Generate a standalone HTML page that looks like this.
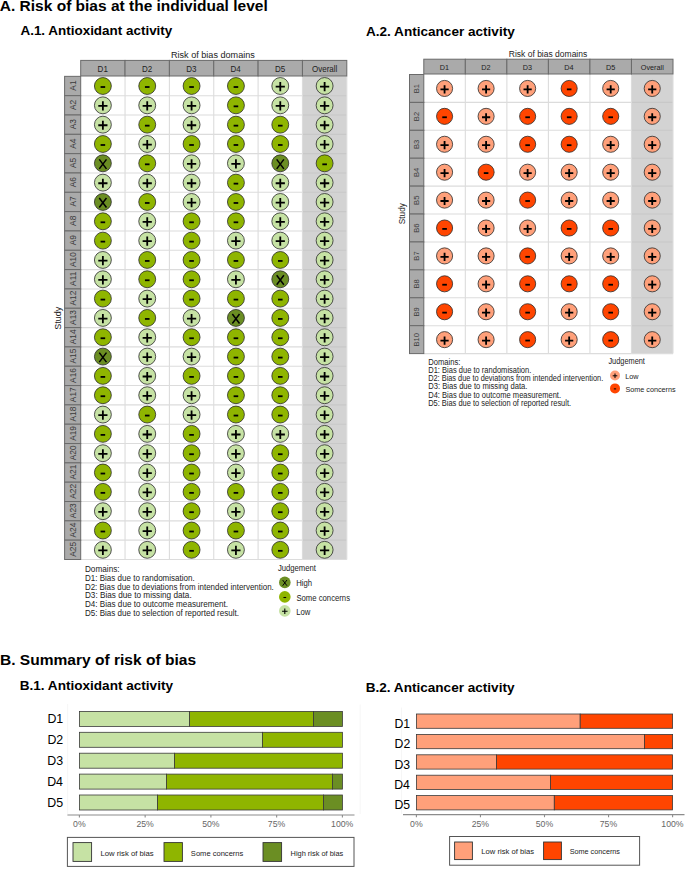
<!DOCTYPE html>
<html><head><meta charset="utf-8"><title>Risk of bias</title><style>
html,body{margin:0;padding:0;background:#fff;}
body{width:685px;height:872px;overflow:hidden;}
svg{display:block;font-family:"Liberation Sans", sans-serif;}
</style></head><body>
<svg width="685" height="872" viewBox="0 0 685 872">
<rect width="685" height="872" fill="#fff"/>
<text transform="translate(-0.19,11.4)" font-size="15.5" font-weight="bold" fill="#000">A. Risk of bias at the individual level</text>
<text transform="translate(20.46,34.5) scale(1,1)" font-size="13.45" font-weight="bold" fill="#000">A.1. Antioxidant activity</text>
<text transform="translate(365.96,35.9) scale(1.01,1)" font-size="13.45" font-weight="bold" fill="#000">A.2. Anticancer activity</text>
<text transform="translate(-0.05,665.4) scale(1.01,1)" font-size="15.4" font-weight="bold" fill="#000">B. Summary of risk of bias</text>
<text transform="translate(19.69,690) scale(1.01,1)" font-size="13.45" font-weight="bold" fill="#000">B.1. Antioxidant activity</text>
<text transform="translate(365.69,691.6) scale(1.01,1)" font-size="13.45" font-weight="bold" fill="#000">B.2. Anticancer activity</text>
<text transform="translate(170.95,57.8) scale(0.99,1)" font-size="9.2" fill="#222222">Risk of bias domains</text>
<rect x="302.45" y="76.35" width="44.35" height="483.15" fill="#d3d3d3"/>
<line x1="80.7" y1="95.68" x2="302.45" y2="95.68" stroke="#dcdcdc" stroke-width="1.1"/>
<line x1="302.45" y1="95.68" x2="346.8" y2="95.68" stroke="#c8c8c8" stroke-width="1.1"/>
<line x1="80.7" y1="115" x2="302.45" y2="115" stroke="#dcdcdc" stroke-width="1.1"/>
<line x1="302.45" y1="115" x2="346.8" y2="115" stroke="#c8c8c8" stroke-width="1.1"/>
<line x1="80.7" y1="134.33" x2="302.45" y2="134.33" stroke="#dcdcdc" stroke-width="1.1"/>
<line x1="302.45" y1="134.33" x2="346.8" y2="134.33" stroke="#c8c8c8" stroke-width="1.1"/>
<line x1="80.7" y1="153.65" x2="302.45" y2="153.65" stroke="#dcdcdc" stroke-width="1.1"/>
<line x1="302.45" y1="153.65" x2="346.8" y2="153.65" stroke="#c8c8c8" stroke-width="1.1"/>
<line x1="80.7" y1="172.98" x2="302.45" y2="172.98" stroke="#dcdcdc" stroke-width="1.1"/>
<line x1="302.45" y1="172.98" x2="346.8" y2="172.98" stroke="#c8c8c8" stroke-width="1.1"/>
<line x1="80.7" y1="192.31" x2="302.45" y2="192.31" stroke="#dcdcdc" stroke-width="1.1"/>
<line x1="302.45" y1="192.31" x2="346.8" y2="192.31" stroke="#c8c8c8" stroke-width="1.1"/>
<line x1="80.7" y1="211.63" x2="302.45" y2="211.63" stroke="#dcdcdc" stroke-width="1.1"/>
<line x1="302.45" y1="211.63" x2="346.8" y2="211.63" stroke="#c8c8c8" stroke-width="1.1"/>
<line x1="80.7" y1="230.96" x2="302.45" y2="230.96" stroke="#dcdcdc" stroke-width="1.1"/>
<line x1="302.45" y1="230.96" x2="346.8" y2="230.96" stroke="#c8c8c8" stroke-width="1.1"/>
<line x1="80.7" y1="250.28" x2="302.45" y2="250.28" stroke="#dcdcdc" stroke-width="1.1"/>
<line x1="302.45" y1="250.28" x2="346.8" y2="250.28" stroke="#c8c8c8" stroke-width="1.1"/>
<line x1="80.7" y1="269.61" x2="302.45" y2="269.61" stroke="#dcdcdc" stroke-width="1.1"/>
<line x1="302.45" y1="269.61" x2="346.8" y2="269.61" stroke="#c8c8c8" stroke-width="1.1"/>
<line x1="80.7" y1="288.94" x2="302.45" y2="288.94" stroke="#dcdcdc" stroke-width="1.1"/>
<line x1="302.45" y1="288.94" x2="346.8" y2="288.94" stroke="#c8c8c8" stroke-width="1.1"/>
<line x1="80.7" y1="308.26" x2="302.45" y2="308.26" stroke="#dcdcdc" stroke-width="1.1"/>
<line x1="302.45" y1="308.26" x2="346.8" y2="308.26" stroke="#c8c8c8" stroke-width="1.1"/>
<line x1="80.7" y1="327.59" x2="302.45" y2="327.59" stroke="#dcdcdc" stroke-width="1.1"/>
<line x1="302.45" y1="327.59" x2="346.8" y2="327.59" stroke="#c8c8c8" stroke-width="1.1"/>
<line x1="80.7" y1="346.91" x2="302.45" y2="346.91" stroke="#dcdcdc" stroke-width="1.1"/>
<line x1="302.45" y1="346.91" x2="346.8" y2="346.91" stroke="#c8c8c8" stroke-width="1.1"/>
<line x1="80.7" y1="366.24" x2="302.45" y2="366.24" stroke="#dcdcdc" stroke-width="1.1"/>
<line x1="302.45" y1="366.24" x2="346.8" y2="366.24" stroke="#c8c8c8" stroke-width="1.1"/>
<line x1="80.7" y1="385.57" x2="302.45" y2="385.57" stroke="#dcdcdc" stroke-width="1.1"/>
<line x1="302.45" y1="385.57" x2="346.8" y2="385.57" stroke="#c8c8c8" stroke-width="1.1"/>
<line x1="80.7" y1="404.89" x2="302.45" y2="404.89" stroke="#dcdcdc" stroke-width="1.1"/>
<line x1="302.45" y1="404.89" x2="346.8" y2="404.89" stroke="#c8c8c8" stroke-width="1.1"/>
<line x1="80.7" y1="424.22" x2="302.45" y2="424.22" stroke="#dcdcdc" stroke-width="1.1"/>
<line x1="302.45" y1="424.22" x2="346.8" y2="424.22" stroke="#c8c8c8" stroke-width="1.1"/>
<line x1="80.7" y1="443.54" x2="302.45" y2="443.54" stroke="#dcdcdc" stroke-width="1.1"/>
<line x1="302.45" y1="443.54" x2="346.8" y2="443.54" stroke="#c8c8c8" stroke-width="1.1"/>
<line x1="80.7" y1="462.87" x2="302.45" y2="462.87" stroke="#dcdcdc" stroke-width="1.1"/>
<line x1="302.45" y1="462.87" x2="346.8" y2="462.87" stroke="#c8c8c8" stroke-width="1.1"/>
<line x1="80.7" y1="482.2" x2="302.45" y2="482.2" stroke="#dcdcdc" stroke-width="1.1"/>
<line x1="302.45" y1="482.2" x2="346.8" y2="482.2" stroke="#c8c8c8" stroke-width="1.1"/>
<line x1="80.7" y1="501.52" x2="302.45" y2="501.52" stroke="#dcdcdc" stroke-width="1.1"/>
<line x1="302.45" y1="501.52" x2="346.8" y2="501.52" stroke="#c8c8c8" stroke-width="1.1"/>
<line x1="80.7" y1="520.85" x2="302.45" y2="520.85" stroke="#dcdcdc" stroke-width="1.1"/>
<line x1="302.45" y1="520.85" x2="346.8" y2="520.85" stroke="#c8c8c8" stroke-width="1.1"/>
<line x1="80.7" y1="540.17" x2="302.45" y2="540.17" stroke="#dcdcdc" stroke-width="1.1"/>
<line x1="302.45" y1="540.17" x2="346.8" y2="540.17" stroke="#c8c8c8" stroke-width="1.1"/>
<line x1="80.7" y1="559.5" x2="302.45" y2="559.5" stroke="#dcdcdc" stroke-width="1.1"/>
<line x1="302.45" y1="559.5" x2="346.8" y2="559.5" stroke="#dcdcdc" stroke-width="1.1"/>
<line x1="125.05" y1="76.35" x2="125.05" y2="559.5" stroke="#dcdcdc" stroke-width="1.1"/>
<line x1="169.4" y1="76.35" x2="169.4" y2="559.5" stroke="#dcdcdc" stroke-width="1.1"/>
<line x1="213.75" y1="76.35" x2="213.75" y2="559.5" stroke="#dcdcdc" stroke-width="1.1"/>
<line x1="258.1" y1="76.35" x2="258.1" y2="559.5" stroke="#dcdcdc" stroke-width="1.1"/>
<line x1="302.45" y1="76.35" x2="302.45" y2="559.5" stroke="#dcdcdc" stroke-width="1.1"/>
<line x1="346.8" y1="76.35" x2="346.8" y2="559.5" stroke="#dcdcdc" stroke-width="1.1"/>
<rect x="80.7" y="60.4" width="44.35" height="15.6" fill="#aaaaaa" stroke="#6a6a6a" stroke-width="1"/>
<text transform="translate(97.62,71.5) scale(0.89,1)" font-size="9.0" fill="#222222">D1</text>
<rect x="125.05" y="60.4" width="44.35" height="15.6" fill="#aaaaaa" stroke="#6a6a6a" stroke-width="1"/>
<text transform="translate(141.98,71.5) scale(0.89,1)" font-size="9.0" fill="#222222">D2</text>
<rect x="169.4" y="60.4" width="44.35" height="15.6" fill="#aaaaaa" stroke="#6a6a6a" stroke-width="1"/>
<text transform="translate(186.3,71.5) scale(0.89,1)" font-size="9.0" fill="#222222">D3</text>
<rect x="213.75" y="60.4" width="44.35" height="15.6" fill="#aaaaaa" stroke="#6a6a6a" stroke-width="1"/>
<text transform="translate(230.59,71.5) scale(0.89,1)" font-size="9.0" fill="#222222">D4</text>
<rect x="258.1" y="60.4" width="44.35" height="15.6" fill="#aaaaaa" stroke="#6a6a6a" stroke-width="1"/>
<text transform="translate(274.99,71.5) scale(0.89,1)" font-size="9.0" fill="#222222">D5</text>
<rect x="302.45" y="60.4" width="44.35" height="15.6" fill="#aaaaaa" stroke="#6a6a6a" stroke-width="1"/>
<text transform="translate(312.02,71.5) scale(0.89,1)" font-size="9.0" fill="#222222">Overall</text>
<rect x="64.6" y="76.35" width="16.1" height="19.33" fill="#aaaaaa" stroke="#6a6a6a" stroke-width="1"/>
<text transform="translate(76.3,90.66) rotate(-90)" font-size="8.4" fill="#3a3a3a">A1</text>
<rect x="64.6" y="95.68" width="16.1" height="19.33" fill="#aaaaaa" stroke="#6a6a6a" stroke-width="1"/>
<text transform="translate(76.3,109.97) rotate(-90)" font-size="8.4" fill="#3a3a3a">A2</text>
<rect x="64.6" y="115" width="16.1" height="19.33" fill="#aaaaaa" stroke="#6a6a6a" stroke-width="1"/>
<text transform="translate(76.3,129.33) rotate(-90)" font-size="8.4" fill="#3a3a3a">A3</text>
<rect x="64.6" y="134.33" width="16.1" height="19.33" fill="#aaaaaa" stroke="#6a6a6a" stroke-width="1"/>
<text transform="translate(76.3,148.72) rotate(-90)" font-size="8.4" fill="#3a3a3a">A4</text>
<rect x="64.6" y="153.65" width="16.1" height="19.33" fill="#aaaaaa" stroke="#6a6a6a" stroke-width="1"/>
<text transform="translate(76.3,167.99) rotate(-90)" font-size="8.4" fill="#3a3a3a">A5</text>
<rect x="64.6" y="172.98" width="16.1" height="19.33" fill="#aaaaaa" stroke="#6a6a6a" stroke-width="1"/>
<text transform="translate(76.3,187.31) rotate(-90)" font-size="8.4" fill="#3a3a3a">A6</text>
<rect x="64.6" y="192.31" width="16.1" height="19.33" fill="#aaaaaa" stroke="#6a6a6a" stroke-width="1"/>
<text transform="translate(76.3,206.6) rotate(-90)" font-size="8.4" fill="#3a3a3a">A7</text>
<rect x="64.6" y="211.63" width="16.1" height="19.33" fill="#aaaaaa" stroke="#6a6a6a" stroke-width="1"/>
<text transform="translate(76.3,225.96) rotate(-90)" font-size="8.4" fill="#3a3a3a">A8</text>
<rect x="64.6" y="230.96" width="16.1" height="19.33" fill="#aaaaaa" stroke="#6a6a6a" stroke-width="1"/>
<text transform="translate(76.3,245.28) rotate(-90)" font-size="8.4" fill="#3a3a3a">A9</text>
<rect x="64.6" y="250.28" width="16.1" height="19.33" fill="#aaaaaa" stroke="#6a6a6a" stroke-width="1"/>
<text transform="translate(76.3,266.97) rotate(-90)" font-size="8.4" fill="#3a3a3a">A10</text>
<rect x="64.6" y="269.61" width="16.1" height="19.33" fill="#aaaaaa" stroke="#6a6a6a" stroke-width="1"/>
<text transform="translate(76.3,285.94) rotate(-90)" font-size="8.4" fill="#3a3a3a">A11</text>
<rect x="64.6" y="288.94" width="16.1" height="19.33" fill="#aaaaaa" stroke="#6a6a6a" stroke-width="1"/>
<text transform="translate(76.3,305.57) rotate(-90)" font-size="8.4" fill="#3a3a3a">A12</text>
<rect x="64.6" y="308.26" width="16.1" height="19.33" fill="#aaaaaa" stroke="#6a6a6a" stroke-width="1"/>
<text transform="translate(76.3,324.92) rotate(-90)" font-size="8.4" fill="#3a3a3a">A13</text>
<rect x="64.6" y="327.59" width="16.1" height="19.33" fill="#aaaaaa" stroke="#6a6a6a" stroke-width="1"/>
<text transform="translate(76.3,344.31) rotate(-90)" font-size="8.4" fill="#3a3a3a">A14</text>
<rect x="64.6" y="346.91" width="16.1" height="19.33" fill="#aaaaaa" stroke="#6a6a6a" stroke-width="1"/>
<text transform="translate(76.3,363.58) rotate(-90)" font-size="8.4" fill="#3a3a3a">A15</text>
<rect x="64.6" y="366.24" width="16.1" height="19.33" fill="#aaaaaa" stroke="#6a6a6a" stroke-width="1"/>
<text transform="translate(76.3,382.9) rotate(-90)" font-size="8.4" fill="#3a3a3a">A16</text>
<rect x="64.6" y="385.57" width="16.1" height="19.33" fill="#aaaaaa" stroke="#6a6a6a" stroke-width="1"/>
<text transform="translate(76.3,402.2) rotate(-90)" font-size="8.4" fill="#3a3a3a">A17</text>
<rect x="64.6" y="404.89" width="16.1" height="19.33" fill="#aaaaaa" stroke="#6a6a6a" stroke-width="1"/>
<text transform="translate(76.3,421.55) rotate(-90)" font-size="8.4" fill="#3a3a3a">A18</text>
<rect x="64.6" y="424.22" width="16.1" height="19.33" fill="#aaaaaa" stroke="#6a6a6a" stroke-width="1"/>
<text transform="translate(76.3,440.87) rotate(-90)" font-size="8.4" fill="#3a3a3a">A19</text>
<rect x="64.6" y="443.54" width="16.1" height="19.33" fill="#aaaaaa" stroke="#6a6a6a" stroke-width="1"/>
<text transform="translate(76.3,460.23) rotate(-90)" font-size="8.4" fill="#3a3a3a">A20</text>
<rect x="64.6" y="462.87" width="16.1" height="19.33" fill="#aaaaaa" stroke="#6a6a6a" stroke-width="1"/>
<text transform="translate(76.3,479.51) rotate(-90)" font-size="8.4" fill="#3a3a3a">A21</text>
<rect x="64.6" y="482.2" width="16.1" height="19.33" fill="#aaaaaa" stroke="#6a6a6a" stroke-width="1"/>
<text transform="translate(76.3,498.83) rotate(-90)" font-size="8.4" fill="#3a3a3a">A22</text>
<rect x="64.6" y="501.52" width="16.1" height="19.33" fill="#aaaaaa" stroke="#6a6a6a" stroke-width="1"/>
<text transform="translate(76.3,518.18) rotate(-90)" font-size="8.4" fill="#3a3a3a">A23</text>
<rect x="64.6" y="520.85" width="16.1" height="19.33" fill="#aaaaaa" stroke="#6a6a6a" stroke-width="1"/>
<text transform="translate(76.3,537.57) rotate(-90)" font-size="8.4" fill="#3a3a3a">A24</text>
<rect x="64.6" y="540.17" width="16.1" height="19.33" fill="#aaaaaa" stroke="#6a6a6a" stroke-width="1"/>
<text transform="translate(76.3,556.85) rotate(-90)" font-size="8.4" fill="#3a3a3a">A25</text>
<circle cx="102.88" cy="86.01" r="8.45" fill="#8FB500" stroke="#2a2a2a" stroke-width="0.8"/>
<path d="M100.58 87.01H105.17" stroke="#000" stroke-width="1.8" fill="none"/>
<circle cx="147.23" cy="86.01" r="8.45" fill="#8FB500" stroke="#2a2a2a" stroke-width="0.8"/>
<path d="M144.93 87.01H149.53" stroke="#000" stroke-width="1.8" fill="none"/>
<circle cx="191.58" cy="86.01" r="8.45" fill="#8FB500" stroke="#2a2a2a" stroke-width="0.8"/>
<path d="M189.28 87.01H193.88" stroke="#000" stroke-width="1.8" fill="none"/>
<circle cx="235.93" cy="86.01" r="8.45" fill="#8FB500" stroke="#2a2a2a" stroke-width="0.8"/>
<path d="M233.62 87.01H238.23" stroke="#000" stroke-width="1.8" fill="none"/>
<circle cx="280.28" cy="86.01" r="8.45" fill="#C6E2A4" stroke="#2a2a2a" stroke-width="0.8"/>
<path d="M275.68 86.61H284.88M280.28 82.01V91.21" stroke="#000" stroke-width="1.8" fill="none"/>
<circle cx="324.62" cy="86.01" r="8.45" fill="#C6E2A4" stroke="#2a2a2a" stroke-width="0.8"/>
<path d="M320.02 86.61H329.23M324.62 82.01V91.21" stroke="#000" stroke-width="1.8" fill="none"/>
<circle cx="102.88" cy="105.34" r="8.45" fill="#C6E2A4" stroke="#2a2a2a" stroke-width="0.8"/>
<path d="M98.28 105.94H107.47M102.88 101.34V110.54" stroke="#000" stroke-width="1.8" fill="none"/>
<circle cx="147.23" cy="105.34" r="8.45" fill="#C6E2A4" stroke="#2a2a2a" stroke-width="0.8"/>
<path d="M142.63 105.94H151.83M147.23 101.34V110.54" stroke="#000" stroke-width="1.8" fill="none"/>
<circle cx="191.58" cy="105.34" r="8.45" fill="#C6E2A4" stroke="#2a2a2a" stroke-width="0.8"/>
<path d="M186.98 105.94H196.18M191.58 101.34V110.54" stroke="#000" stroke-width="1.8" fill="none"/>
<circle cx="235.93" cy="105.34" r="8.45" fill="#8FB500" stroke="#2a2a2a" stroke-width="0.8"/>
<path d="M233.62 106.34H238.23" stroke="#000" stroke-width="1.8" fill="none"/>
<circle cx="280.28" cy="105.34" r="8.45" fill="#C6E2A4" stroke="#2a2a2a" stroke-width="0.8"/>
<path d="M275.68 105.94H284.88M280.28 101.34V110.54" stroke="#000" stroke-width="1.8" fill="none"/>
<circle cx="324.62" cy="105.34" r="8.45" fill="#C6E2A4" stroke="#2a2a2a" stroke-width="0.8"/>
<path d="M320.02 105.94H329.23M324.62 101.34V110.54" stroke="#000" stroke-width="1.8" fill="none"/>
<circle cx="102.88" cy="124.66" r="8.45" fill="#C6E2A4" stroke="#2a2a2a" stroke-width="0.8"/>
<path d="M98.28 125.26H107.47M102.88 120.66V129.86" stroke="#000" stroke-width="1.8" fill="none"/>
<circle cx="147.23" cy="124.66" r="8.45" fill="#8FB500" stroke="#2a2a2a" stroke-width="0.8"/>
<path d="M144.93 125.66H149.53" stroke="#000" stroke-width="1.8" fill="none"/>
<circle cx="191.58" cy="124.66" r="8.45" fill="#C6E2A4" stroke="#2a2a2a" stroke-width="0.8"/>
<path d="M186.98 125.26H196.18M191.58 120.66V129.86" stroke="#000" stroke-width="1.8" fill="none"/>
<circle cx="235.93" cy="124.66" r="8.45" fill="#8FB500" stroke="#2a2a2a" stroke-width="0.8"/>
<path d="M233.62 125.66H238.23" stroke="#000" stroke-width="1.8" fill="none"/>
<circle cx="280.28" cy="124.66" r="8.45" fill="#8FB500" stroke="#2a2a2a" stroke-width="0.8"/>
<path d="M277.98 125.66H282.58" stroke="#000" stroke-width="1.8" fill="none"/>
<circle cx="324.62" cy="124.66" r="8.45" fill="#C6E2A4" stroke="#2a2a2a" stroke-width="0.8"/>
<path d="M320.02 125.26H329.23M324.62 120.66V129.86" stroke="#000" stroke-width="1.8" fill="none"/>
<circle cx="102.88" cy="143.99" r="8.45" fill="#8FB500" stroke="#2a2a2a" stroke-width="0.8"/>
<path d="M100.58 144.99H105.17" stroke="#000" stroke-width="1.8" fill="none"/>
<circle cx="147.23" cy="143.99" r="8.45" fill="#C6E2A4" stroke="#2a2a2a" stroke-width="0.8"/>
<path d="M142.63 144.59H151.83M147.23 139.99V149.19" stroke="#000" stroke-width="1.8" fill="none"/>
<circle cx="191.58" cy="143.99" r="8.45" fill="#8FB500" stroke="#2a2a2a" stroke-width="0.8"/>
<path d="M189.28 144.99H193.88" stroke="#000" stroke-width="1.8" fill="none"/>
<circle cx="235.93" cy="143.99" r="8.45" fill="#8FB500" stroke="#2a2a2a" stroke-width="0.8"/>
<path d="M233.62 144.99H238.23" stroke="#000" stroke-width="1.8" fill="none"/>
<circle cx="280.28" cy="143.99" r="8.45" fill="#8FB500" stroke="#2a2a2a" stroke-width="0.8"/>
<path d="M277.98 144.99H282.58" stroke="#000" stroke-width="1.8" fill="none"/>
<circle cx="324.62" cy="143.99" r="8.45" fill="#C6E2A4" stroke="#2a2a2a" stroke-width="0.8"/>
<path d="M320.02 144.59H329.23M324.62 139.99V149.19" stroke="#000" stroke-width="1.8" fill="none"/>
<circle cx="102.88" cy="163.32" r="8.45" fill="#6B8E23" stroke="#2a2a2a" stroke-width="0.8"/>
<path d="M99.28 159.37L106.47 168.87M106.47 159.37L99.28 168.87" stroke="#000" stroke-width="1.5" fill="none"/>
<circle cx="147.23" cy="163.32" r="8.45" fill="#8FB500" stroke="#2a2a2a" stroke-width="0.8"/>
<path d="M144.93 164.32H149.53" stroke="#000" stroke-width="1.8" fill="none"/>
<circle cx="191.58" cy="163.32" r="8.45" fill="#C6E2A4" stroke="#2a2a2a" stroke-width="0.8"/>
<path d="M186.98 163.92H196.18M191.58 159.32V168.52" stroke="#000" stroke-width="1.8" fill="none"/>
<circle cx="235.93" cy="163.32" r="8.45" fill="#C6E2A4" stroke="#2a2a2a" stroke-width="0.8"/>
<path d="M231.33 163.92H240.53M235.93 159.32V168.52" stroke="#000" stroke-width="1.8" fill="none"/>
<circle cx="280.28" cy="163.32" r="8.45" fill="#6B8E23" stroke="#2a2a2a" stroke-width="0.8"/>
<path d="M276.68 159.37L283.88 168.87M283.88 159.37L276.68 168.87" stroke="#000" stroke-width="1.5" fill="none"/>
<circle cx="324.62" cy="163.32" r="8.45" fill="#8FB500" stroke="#2a2a2a" stroke-width="0.8"/>
<path d="M322.32 164.32H326.93" stroke="#000" stroke-width="1.8" fill="none"/>
<circle cx="102.88" cy="182.64" r="8.45" fill="#C6E2A4" stroke="#2a2a2a" stroke-width="0.8"/>
<path d="M98.28 183.24H107.47M102.88 178.64V187.84" stroke="#000" stroke-width="1.8" fill="none"/>
<circle cx="147.23" cy="182.64" r="8.45" fill="#C6E2A4" stroke="#2a2a2a" stroke-width="0.8"/>
<path d="M142.63 183.24H151.83M147.23 178.64V187.84" stroke="#000" stroke-width="1.8" fill="none"/>
<circle cx="191.58" cy="182.64" r="8.45" fill="#C6E2A4" stroke="#2a2a2a" stroke-width="0.8"/>
<path d="M186.98 183.24H196.18M191.58 178.64V187.84" stroke="#000" stroke-width="1.8" fill="none"/>
<circle cx="235.93" cy="182.64" r="8.45" fill="#8FB500" stroke="#2a2a2a" stroke-width="0.8"/>
<path d="M233.62 183.64H238.23" stroke="#000" stroke-width="1.8" fill="none"/>
<circle cx="280.28" cy="182.64" r="8.45" fill="#C6E2A4" stroke="#2a2a2a" stroke-width="0.8"/>
<path d="M275.68 183.24H284.88M280.28 178.64V187.84" stroke="#000" stroke-width="1.8" fill="none"/>
<circle cx="324.62" cy="182.64" r="8.45" fill="#C6E2A4" stroke="#2a2a2a" stroke-width="0.8"/>
<path d="M320.02 183.24H329.23M324.62 178.64V187.84" stroke="#000" stroke-width="1.8" fill="none"/>
<circle cx="102.88" cy="201.97" r="8.45" fill="#6B8E23" stroke="#2a2a2a" stroke-width="0.8"/>
<path d="M99.28 198.02L106.47 207.52M106.47 198.02L99.28 207.52" stroke="#000" stroke-width="1.5" fill="none"/>
<circle cx="147.23" cy="201.97" r="8.45" fill="#8FB500" stroke="#2a2a2a" stroke-width="0.8"/>
<path d="M144.93 202.97H149.53" stroke="#000" stroke-width="1.8" fill="none"/>
<circle cx="191.58" cy="201.97" r="8.45" fill="#C6E2A4" stroke="#2a2a2a" stroke-width="0.8"/>
<path d="M186.98 202.57H196.18M191.58 197.97V207.17" stroke="#000" stroke-width="1.8" fill="none"/>
<circle cx="235.93" cy="201.97" r="8.45" fill="#8FB500" stroke="#2a2a2a" stroke-width="0.8"/>
<path d="M233.62 202.97H238.23" stroke="#000" stroke-width="1.8" fill="none"/>
<circle cx="280.28" cy="201.97" r="8.45" fill="#C6E2A4" stroke="#2a2a2a" stroke-width="0.8"/>
<path d="M275.68 202.57H284.88M280.28 197.97V207.17" stroke="#000" stroke-width="1.8" fill="none"/>
<circle cx="324.62" cy="201.97" r="8.45" fill="#C6E2A4" stroke="#2a2a2a" stroke-width="0.8"/>
<path d="M320.02 202.57H329.23M324.62 197.97V207.17" stroke="#000" stroke-width="1.8" fill="none"/>
<circle cx="102.88" cy="221.3" r="8.45" fill="#8FB500" stroke="#2a2a2a" stroke-width="0.8"/>
<path d="M100.58 222.3H105.17" stroke="#000" stroke-width="1.8" fill="none"/>
<circle cx="147.23" cy="221.3" r="8.45" fill="#C6E2A4" stroke="#2a2a2a" stroke-width="0.8"/>
<path d="M142.63 221.9H151.83M147.23 217.3V226.5" stroke="#000" stroke-width="1.8" fill="none"/>
<circle cx="191.58" cy="221.3" r="8.45" fill="#8FB500" stroke="#2a2a2a" stroke-width="0.8"/>
<path d="M189.28 222.3H193.88" stroke="#000" stroke-width="1.8" fill="none"/>
<circle cx="235.93" cy="221.3" r="8.45" fill="#8FB500" stroke="#2a2a2a" stroke-width="0.8"/>
<path d="M233.62 222.3H238.23" stroke="#000" stroke-width="1.8" fill="none"/>
<circle cx="280.28" cy="221.3" r="8.45" fill="#C6E2A4" stroke="#2a2a2a" stroke-width="0.8"/>
<path d="M275.68 221.9H284.88M280.28 217.3V226.5" stroke="#000" stroke-width="1.8" fill="none"/>
<circle cx="324.62" cy="221.3" r="8.45" fill="#C6E2A4" stroke="#2a2a2a" stroke-width="0.8"/>
<path d="M320.02 221.9H329.23M324.62 217.3V226.5" stroke="#000" stroke-width="1.8" fill="none"/>
<circle cx="102.88" cy="240.62" r="8.45" fill="#8FB500" stroke="#2a2a2a" stroke-width="0.8"/>
<path d="M100.58 241.62H105.17" stroke="#000" stroke-width="1.8" fill="none"/>
<circle cx="147.23" cy="240.62" r="8.45" fill="#C6E2A4" stroke="#2a2a2a" stroke-width="0.8"/>
<path d="M142.63 241.22H151.83M147.23 236.62V245.82" stroke="#000" stroke-width="1.8" fill="none"/>
<circle cx="191.58" cy="240.62" r="8.45" fill="#8FB500" stroke="#2a2a2a" stroke-width="0.8"/>
<path d="M189.28 241.62H193.88" stroke="#000" stroke-width="1.8" fill="none"/>
<circle cx="235.93" cy="240.62" r="8.45" fill="#C6E2A4" stroke="#2a2a2a" stroke-width="0.8"/>
<path d="M231.33 241.22H240.53M235.93 236.62V245.82" stroke="#000" stroke-width="1.8" fill="none"/>
<circle cx="280.28" cy="240.62" r="8.45" fill="#C6E2A4" stroke="#2a2a2a" stroke-width="0.8"/>
<path d="M275.68 241.22H284.88M280.28 236.62V245.82" stroke="#000" stroke-width="1.8" fill="none"/>
<circle cx="324.62" cy="240.62" r="8.45" fill="#C6E2A4" stroke="#2a2a2a" stroke-width="0.8"/>
<path d="M320.02 241.22H329.23M324.62 236.62V245.82" stroke="#000" stroke-width="1.8" fill="none"/>
<circle cx="102.88" cy="259.95" r="8.45" fill="#C6E2A4" stroke="#2a2a2a" stroke-width="0.8"/>
<path d="M98.28 260.55H107.47M102.88 255.95V265.15" stroke="#000" stroke-width="1.8" fill="none"/>
<circle cx="147.23" cy="259.95" r="8.45" fill="#8FB500" stroke="#2a2a2a" stroke-width="0.8"/>
<path d="M144.93 260.95H149.53" stroke="#000" stroke-width="1.8" fill="none"/>
<circle cx="191.58" cy="259.95" r="8.45" fill="#8FB500" stroke="#2a2a2a" stroke-width="0.8"/>
<path d="M189.28 260.95H193.88" stroke="#000" stroke-width="1.8" fill="none"/>
<circle cx="235.93" cy="259.95" r="8.45" fill="#8FB500" stroke="#2a2a2a" stroke-width="0.8"/>
<path d="M233.62 260.95H238.23" stroke="#000" stroke-width="1.8" fill="none"/>
<circle cx="280.28" cy="259.95" r="8.45" fill="#8FB500" stroke="#2a2a2a" stroke-width="0.8"/>
<path d="M277.98 260.95H282.58" stroke="#000" stroke-width="1.8" fill="none"/>
<circle cx="324.62" cy="259.95" r="8.45" fill="#C6E2A4" stroke="#2a2a2a" stroke-width="0.8"/>
<path d="M320.02 260.55H329.23M324.62 255.95V265.15" stroke="#000" stroke-width="1.8" fill="none"/>
<circle cx="102.88" cy="279.27" r="8.45" fill="#C6E2A4" stroke="#2a2a2a" stroke-width="0.8"/>
<path d="M98.28 279.87H107.47M102.88 275.27V284.47" stroke="#000" stroke-width="1.8" fill="none"/>
<circle cx="147.23" cy="279.27" r="8.45" fill="#8FB500" stroke="#2a2a2a" stroke-width="0.8"/>
<path d="M144.93 280.27H149.53" stroke="#000" stroke-width="1.8" fill="none"/>
<circle cx="191.58" cy="279.27" r="8.45" fill="#8FB500" stroke="#2a2a2a" stroke-width="0.8"/>
<path d="M189.28 280.27H193.88" stroke="#000" stroke-width="1.8" fill="none"/>
<circle cx="235.93" cy="279.27" r="8.45" fill="#C6E2A4" stroke="#2a2a2a" stroke-width="0.8"/>
<path d="M231.33 279.87H240.53M235.93 275.27V284.47" stroke="#000" stroke-width="1.8" fill="none"/>
<circle cx="280.28" cy="279.27" r="8.45" fill="#6B8E23" stroke="#2a2a2a" stroke-width="0.8"/>
<path d="M276.68 275.32L283.88 284.82M283.88 275.32L276.68 284.82" stroke="#000" stroke-width="1.5" fill="none"/>
<circle cx="324.62" cy="279.27" r="8.45" fill="#C6E2A4" stroke="#2a2a2a" stroke-width="0.8"/>
<path d="M320.02 279.87H329.23M324.62 275.27V284.47" stroke="#000" stroke-width="1.8" fill="none"/>
<circle cx="102.88" cy="298.6" r="8.45" fill="#8FB500" stroke="#2a2a2a" stroke-width="0.8"/>
<path d="M100.58 299.6H105.17" stroke="#000" stroke-width="1.8" fill="none"/>
<circle cx="147.23" cy="298.6" r="8.45" fill="#C6E2A4" stroke="#2a2a2a" stroke-width="0.8"/>
<path d="M142.63 299.2H151.83M147.23 294.6V303.8" stroke="#000" stroke-width="1.8" fill="none"/>
<circle cx="191.58" cy="298.6" r="8.45" fill="#8FB500" stroke="#2a2a2a" stroke-width="0.8"/>
<path d="M189.28 299.6H193.88" stroke="#000" stroke-width="1.8" fill="none"/>
<circle cx="235.93" cy="298.6" r="8.45" fill="#8FB500" stroke="#2a2a2a" stroke-width="0.8"/>
<path d="M233.62 299.6H238.23" stroke="#000" stroke-width="1.8" fill="none"/>
<circle cx="280.28" cy="298.6" r="8.45" fill="#8FB500" stroke="#2a2a2a" stroke-width="0.8"/>
<path d="M277.98 299.6H282.58" stroke="#000" stroke-width="1.8" fill="none"/>
<circle cx="324.62" cy="298.6" r="8.45" fill="#C6E2A4" stroke="#2a2a2a" stroke-width="0.8"/>
<path d="M320.02 299.2H329.23M324.62 294.6V303.8" stroke="#000" stroke-width="1.8" fill="none"/>
<circle cx="102.88" cy="317.93" r="8.45" fill="#C6E2A4" stroke="#2a2a2a" stroke-width="0.8"/>
<path d="M98.28 318.53H107.47M102.88 313.93V323.13" stroke="#000" stroke-width="1.8" fill="none"/>
<circle cx="147.23" cy="317.93" r="8.45" fill="#8FB500" stroke="#2a2a2a" stroke-width="0.8"/>
<path d="M144.93 318.93H149.53" stroke="#000" stroke-width="1.8" fill="none"/>
<circle cx="191.58" cy="317.93" r="8.45" fill="#C6E2A4" stroke="#2a2a2a" stroke-width="0.8"/>
<path d="M186.98 318.53H196.18M191.58 313.93V323.13" stroke="#000" stroke-width="1.8" fill="none"/>
<circle cx="235.93" cy="317.93" r="8.45" fill="#6B8E23" stroke="#2a2a2a" stroke-width="0.8"/>
<path d="M232.33 313.98L239.53 323.48M239.53 313.98L232.33 323.48" stroke="#000" stroke-width="1.5" fill="none"/>
<circle cx="280.28" cy="317.93" r="8.45" fill="#8FB500" stroke="#2a2a2a" stroke-width="0.8"/>
<path d="M277.98 318.93H282.58" stroke="#000" stroke-width="1.8" fill="none"/>
<circle cx="324.62" cy="317.93" r="8.45" fill="#C6E2A4" stroke="#2a2a2a" stroke-width="0.8"/>
<path d="M320.02 318.53H329.23M324.62 313.93V323.13" stroke="#000" stroke-width="1.8" fill="none"/>
<circle cx="102.88" cy="337.25" r="8.45" fill="#8FB500" stroke="#2a2a2a" stroke-width="0.8"/>
<path d="M100.58 338.25H105.17" stroke="#000" stroke-width="1.8" fill="none"/>
<circle cx="147.23" cy="337.25" r="8.45" fill="#C6E2A4" stroke="#2a2a2a" stroke-width="0.8"/>
<path d="M142.63 337.85H151.83M147.23 333.25V342.45" stroke="#000" stroke-width="1.8" fill="none"/>
<circle cx="191.58" cy="337.25" r="8.45" fill="#8FB500" stroke="#2a2a2a" stroke-width="0.8"/>
<path d="M189.28 338.25H193.88" stroke="#000" stroke-width="1.8" fill="none"/>
<circle cx="235.93" cy="337.25" r="8.45" fill="#8FB500" stroke="#2a2a2a" stroke-width="0.8"/>
<path d="M233.62 338.25H238.23" stroke="#000" stroke-width="1.8" fill="none"/>
<circle cx="280.28" cy="337.25" r="8.45" fill="#8FB500" stroke="#2a2a2a" stroke-width="0.8"/>
<path d="M277.98 338.25H282.58" stroke="#000" stroke-width="1.8" fill="none"/>
<circle cx="324.62" cy="337.25" r="8.45" fill="#C6E2A4" stroke="#2a2a2a" stroke-width="0.8"/>
<path d="M320.02 337.85H329.23M324.62 333.25V342.45" stroke="#000" stroke-width="1.8" fill="none"/>
<circle cx="102.88" cy="356.58" r="8.45" fill="#6B8E23" stroke="#2a2a2a" stroke-width="0.8"/>
<path d="M99.28 352.63L106.47 362.13M106.47 352.63L99.28 362.13" stroke="#000" stroke-width="1.5" fill="none"/>
<circle cx="147.23" cy="356.58" r="8.45" fill="#C6E2A4" stroke="#2a2a2a" stroke-width="0.8"/>
<path d="M142.63 357.18H151.83M147.23 352.58V361.78" stroke="#000" stroke-width="1.8" fill="none"/>
<circle cx="191.58" cy="356.58" r="8.45" fill="#C6E2A4" stroke="#2a2a2a" stroke-width="0.8"/>
<path d="M186.98 357.18H196.18M191.58 352.58V361.78" stroke="#000" stroke-width="1.8" fill="none"/>
<circle cx="235.93" cy="356.58" r="8.45" fill="#8FB500" stroke="#2a2a2a" stroke-width="0.8"/>
<path d="M233.62 357.58H238.23" stroke="#000" stroke-width="1.8" fill="none"/>
<circle cx="280.28" cy="356.58" r="8.45" fill="#8FB500" stroke="#2a2a2a" stroke-width="0.8"/>
<path d="M277.98 357.58H282.58" stroke="#000" stroke-width="1.8" fill="none"/>
<circle cx="324.62" cy="356.58" r="8.45" fill="#C6E2A4" stroke="#2a2a2a" stroke-width="0.8"/>
<path d="M320.02 357.18H329.23M324.62 352.58V361.78" stroke="#000" stroke-width="1.8" fill="none"/>
<circle cx="102.88" cy="375.9" r="8.45" fill="#8FB500" stroke="#2a2a2a" stroke-width="0.8"/>
<path d="M100.58 376.9H105.17" stroke="#000" stroke-width="1.8" fill="none"/>
<circle cx="147.23" cy="375.9" r="8.45" fill="#C6E2A4" stroke="#2a2a2a" stroke-width="0.8"/>
<path d="M142.63 376.5H151.83M147.23 371.9V381.1" stroke="#000" stroke-width="1.8" fill="none"/>
<circle cx="191.58" cy="375.9" r="8.45" fill="#8FB500" stroke="#2a2a2a" stroke-width="0.8"/>
<path d="M189.28 376.9H193.88" stroke="#000" stroke-width="1.8" fill="none"/>
<circle cx="235.93" cy="375.9" r="8.45" fill="#8FB500" stroke="#2a2a2a" stroke-width="0.8"/>
<path d="M233.62 376.9H238.23" stroke="#000" stroke-width="1.8" fill="none"/>
<circle cx="280.28" cy="375.9" r="8.45" fill="#8FB500" stroke="#2a2a2a" stroke-width="0.8"/>
<path d="M277.98 376.9H282.58" stroke="#000" stroke-width="1.8" fill="none"/>
<circle cx="324.62" cy="375.9" r="8.45" fill="#C6E2A4" stroke="#2a2a2a" stroke-width="0.8"/>
<path d="M320.02 376.5H329.23M324.62 371.9V381.1" stroke="#000" stroke-width="1.8" fill="none"/>
<circle cx="102.88" cy="395.23" r="8.45" fill="#8FB500" stroke="#2a2a2a" stroke-width="0.8"/>
<path d="M100.58 396.23H105.17" stroke="#000" stroke-width="1.8" fill="none"/>
<circle cx="147.23" cy="395.23" r="8.45" fill="#C6E2A4" stroke="#2a2a2a" stroke-width="0.8"/>
<path d="M142.63 395.83H151.83M147.23 391.23V400.43" stroke="#000" stroke-width="1.8" fill="none"/>
<circle cx="191.58" cy="395.23" r="8.45" fill="#C6E2A4" stroke="#2a2a2a" stroke-width="0.8"/>
<path d="M186.98 395.83H196.18M191.58 391.23V400.43" stroke="#000" stroke-width="1.8" fill="none"/>
<circle cx="235.93" cy="395.23" r="8.45" fill="#8FB500" stroke="#2a2a2a" stroke-width="0.8"/>
<path d="M233.62 396.23H238.23" stroke="#000" stroke-width="1.8" fill="none"/>
<circle cx="280.28" cy="395.23" r="8.45" fill="#8FB500" stroke="#2a2a2a" stroke-width="0.8"/>
<path d="M277.98 396.23H282.58" stroke="#000" stroke-width="1.8" fill="none"/>
<circle cx="324.62" cy="395.23" r="8.45" fill="#C6E2A4" stroke="#2a2a2a" stroke-width="0.8"/>
<path d="M320.02 395.83H329.23M324.62 391.23V400.43" stroke="#000" stroke-width="1.8" fill="none"/>
<circle cx="102.88" cy="414.56" r="8.45" fill="#C6E2A4" stroke="#2a2a2a" stroke-width="0.8"/>
<path d="M98.28 415.16H107.47M102.88 410.56V419.76" stroke="#000" stroke-width="1.8" fill="none"/>
<circle cx="147.23" cy="414.56" r="8.45" fill="#8FB500" stroke="#2a2a2a" stroke-width="0.8"/>
<path d="M144.93 415.56H149.53" stroke="#000" stroke-width="1.8" fill="none"/>
<circle cx="191.58" cy="414.56" r="8.45" fill="#C6E2A4" stroke="#2a2a2a" stroke-width="0.8"/>
<path d="M186.98 415.16H196.18M191.58 410.56V419.76" stroke="#000" stroke-width="1.8" fill="none"/>
<circle cx="235.93" cy="414.56" r="8.45" fill="#8FB500" stroke="#2a2a2a" stroke-width="0.8"/>
<path d="M233.62 415.56H238.23" stroke="#000" stroke-width="1.8" fill="none"/>
<circle cx="280.28" cy="414.56" r="8.45" fill="#8FB500" stroke="#2a2a2a" stroke-width="0.8"/>
<path d="M277.98 415.56H282.58" stroke="#000" stroke-width="1.8" fill="none"/>
<circle cx="324.62" cy="414.56" r="8.45" fill="#C6E2A4" stroke="#2a2a2a" stroke-width="0.8"/>
<path d="M320.02 415.16H329.23M324.62 410.56V419.76" stroke="#000" stroke-width="1.8" fill="none"/>
<circle cx="102.88" cy="433.88" r="8.45" fill="#8FB500" stroke="#2a2a2a" stroke-width="0.8"/>
<path d="M100.58 434.88H105.17" stroke="#000" stroke-width="1.8" fill="none"/>
<circle cx="147.23" cy="433.88" r="8.45" fill="#C6E2A4" stroke="#2a2a2a" stroke-width="0.8"/>
<path d="M142.63 434.48H151.83M147.23 429.88V439.08" stroke="#000" stroke-width="1.8" fill="none"/>
<circle cx="191.58" cy="433.88" r="8.45" fill="#8FB500" stroke="#2a2a2a" stroke-width="0.8"/>
<path d="M189.28 434.88H193.88" stroke="#000" stroke-width="1.8" fill="none"/>
<circle cx="235.93" cy="433.88" r="8.45" fill="#C6E2A4" stroke="#2a2a2a" stroke-width="0.8"/>
<path d="M231.33 434.48H240.53M235.93 429.88V439.08" stroke="#000" stroke-width="1.8" fill="none"/>
<circle cx="280.28" cy="433.88" r="8.45" fill="#C6E2A4" stroke="#2a2a2a" stroke-width="0.8"/>
<path d="M275.68 434.48H284.88M280.28 429.88V439.08" stroke="#000" stroke-width="1.8" fill="none"/>
<circle cx="324.62" cy="433.88" r="8.45" fill="#C6E2A4" stroke="#2a2a2a" stroke-width="0.8"/>
<path d="M320.02 434.48H329.23M324.62 429.88V439.08" stroke="#000" stroke-width="1.8" fill="none"/>
<circle cx="102.88" cy="453.21" r="8.45" fill="#C6E2A4" stroke="#2a2a2a" stroke-width="0.8"/>
<path d="M98.28 453.81H107.47M102.88 449.21V458.41" stroke="#000" stroke-width="1.8" fill="none"/>
<circle cx="147.23" cy="453.21" r="8.45" fill="#C6E2A4" stroke="#2a2a2a" stroke-width="0.8"/>
<path d="M142.63 453.81H151.83M147.23 449.21V458.41" stroke="#000" stroke-width="1.8" fill="none"/>
<circle cx="191.58" cy="453.21" r="8.45" fill="#8FB500" stroke="#2a2a2a" stroke-width="0.8"/>
<path d="M189.28 454.21H193.88" stroke="#000" stroke-width="1.8" fill="none"/>
<circle cx="235.93" cy="453.21" r="8.45" fill="#C6E2A4" stroke="#2a2a2a" stroke-width="0.8"/>
<path d="M231.33 453.81H240.53M235.93 449.21V458.41" stroke="#000" stroke-width="1.8" fill="none"/>
<circle cx="280.28" cy="453.21" r="8.45" fill="#8FB500" stroke="#2a2a2a" stroke-width="0.8"/>
<path d="M277.98 454.21H282.58" stroke="#000" stroke-width="1.8" fill="none"/>
<circle cx="324.62" cy="453.21" r="8.45" fill="#C6E2A4" stroke="#2a2a2a" stroke-width="0.8"/>
<path d="M320.02 453.81H329.23M324.62 449.21V458.41" stroke="#000" stroke-width="1.8" fill="none"/>
<circle cx="102.88" cy="472.53" r="8.45" fill="#8FB500" stroke="#2a2a2a" stroke-width="0.8"/>
<path d="M100.58 473.53H105.17" stroke="#000" stroke-width="1.8" fill="none"/>
<circle cx="147.23" cy="472.53" r="8.45" fill="#C6E2A4" stroke="#2a2a2a" stroke-width="0.8"/>
<path d="M142.63 473.13H151.83M147.23 468.53V477.73" stroke="#000" stroke-width="1.8" fill="none"/>
<circle cx="191.58" cy="472.53" r="8.45" fill="#8FB500" stroke="#2a2a2a" stroke-width="0.8"/>
<path d="M189.28 473.53H193.88" stroke="#000" stroke-width="1.8" fill="none"/>
<circle cx="235.93" cy="472.53" r="8.45" fill="#C6E2A4" stroke="#2a2a2a" stroke-width="0.8"/>
<path d="M231.33 473.13H240.53M235.93 468.53V477.73" stroke="#000" stroke-width="1.8" fill="none"/>
<circle cx="280.28" cy="472.53" r="8.45" fill="#8FB500" stroke="#2a2a2a" stroke-width="0.8"/>
<path d="M277.98 473.53H282.58" stroke="#000" stroke-width="1.8" fill="none"/>
<circle cx="324.62" cy="472.53" r="8.45" fill="#C6E2A4" stroke="#2a2a2a" stroke-width="0.8"/>
<path d="M320.02 473.13H329.23M324.62 468.53V477.73" stroke="#000" stroke-width="1.8" fill="none"/>
<circle cx="102.88" cy="491.86" r="8.45" fill="#8FB500" stroke="#2a2a2a" stroke-width="0.8"/>
<path d="M100.58 492.86H105.17" stroke="#000" stroke-width="1.8" fill="none"/>
<circle cx="147.23" cy="491.86" r="8.45" fill="#C6E2A4" stroke="#2a2a2a" stroke-width="0.8"/>
<path d="M142.63 492.46H151.83M147.23 487.86V497.06" stroke="#000" stroke-width="1.8" fill="none"/>
<circle cx="191.58" cy="491.86" r="8.45" fill="#8FB500" stroke="#2a2a2a" stroke-width="0.8"/>
<path d="M189.28 492.86H193.88" stroke="#000" stroke-width="1.8" fill="none"/>
<circle cx="235.93" cy="491.86" r="8.45" fill="#8FB500" stroke="#2a2a2a" stroke-width="0.8"/>
<path d="M233.62 492.86H238.23" stroke="#000" stroke-width="1.8" fill="none"/>
<circle cx="280.28" cy="491.86" r="8.45" fill="#8FB500" stroke="#2a2a2a" stroke-width="0.8"/>
<path d="M277.98 492.86H282.58" stroke="#000" stroke-width="1.8" fill="none"/>
<circle cx="324.62" cy="491.86" r="8.45" fill="#C6E2A4" stroke="#2a2a2a" stroke-width="0.8"/>
<path d="M320.02 492.46H329.23M324.62 487.86V497.06" stroke="#000" stroke-width="1.8" fill="none"/>
<circle cx="102.88" cy="511.19" r="8.45" fill="#C6E2A4" stroke="#2a2a2a" stroke-width="0.8"/>
<path d="M98.28 511.79H107.47M102.88 507.19V516.39" stroke="#000" stroke-width="1.8" fill="none"/>
<circle cx="147.23" cy="511.19" r="8.45" fill="#C6E2A4" stroke="#2a2a2a" stroke-width="0.8"/>
<path d="M142.63 511.79H151.83M147.23 507.19V516.39" stroke="#000" stroke-width="1.8" fill="none"/>
<circle cx="191.58" cy="511.19" r="8.45" fill="#8FB500" stroke="#2a2a2a" stroke-width="0.8"/>
<path d="M189.28 512.19H193.88" stroke="#000" stroke-width="1.8" fill="none"/>
<circle cx="235.93" cy="511.19" r="8.45" fill="#C6E2A4" stroke="#2a2a2a" stroke-width="0.8"/>
<path d="M231.33 511.79H240.53M235.93 507.19V516.39" stroke="#000" stroke-width="1.8" fill="none"/>
<circle cx="280.28" cy="511.19" r="8.45" fill="#8FB500" stroke="#2a2a2a" stroke-width="0.8"/>
<path d="M277.98 512.19H282.58" stroke="#000" stroke-width="1.8" fill="none"/>
<circle cx="324.62" cy="511.19" r="8.45" fill="#C6E2A4" stroke="#2a2a2a" stroke-width="0.8"/>
<path d="M320.02 511.79H329.23M324.62 507.19V516.39" stroke="#000" stroke-width="1.8" fill="none"/>
<circle cx="102.88" cy="530.51" r="8.45" fill="#8FB500" stroke="#2a2a2a" stroke-width="0.8"/>
<path d="M100.58 531.51H105.17" stroke="#000" stroke-width="1.8" fill="none"/>
<circle cx="147.23" cy="530.51" r="8.45" fill="#C6E2A4" stroke="#2a2a2a" stroke-width="0.8"/>
<path d="M142.63 531.11H151.83M147.23 526.51V535.71" stroke="#000" stroke-width="1.8" fill="none"/>
<circle cx="191.58" cy="530.51" r="8.45" fill="#8FB500" stroke="#2a2a2a" stroke-width="0.8"/>
<path d="M189.28 531.51H193.88" stroke="#000" stroke-width="1.8" fill="none"/>
<circle cx="235.93" cy="530.51" r="8.45" fill="#8FB500" stroke="#2a2a2a" stroke-width="0.8"/>
<path d="M233.62 531.51H238.23" stroke="#000" stroke-width="1.8" fill="none"/>
<circle cx="280.28" cy="530.51" r="8.45" fill="#8FB500" stroke="#2a2a2a" stroke-width="0.8"/>
<path d="M277.98 531.51H282.58" stroke="#000" stroke-width="1.8" fill="none"/>
<circle cx="324.62" cy="530.51" r="8.45" fill="#C6E2A4" stroke="#2a2a2a" stroke-width="0.8"/>
<path d="M320.02 531.11H329.23M324.62 526.51V535.71" stroke="#000" stroke-width="1.8" fill="none"/>
<circle cx="102.88" cy="549.84" r="8.45" fill="#C6E2A4" stroke="#2a2a2a" stroke-width="0.8"/>
<path d="M98.28 550.44H107.47M102.88 545.84V555.04" stroke="#000" stroke-width="1.8" fill="none"/>
<circle cx="147.23" cy="549.84" r="8.45" fill="#C6E2A4" stroke="#2a2a2a" stroke-width="0.8"/>
<path d="M142.63 550.44H151.83M147.23 545.84V555.04" stroke="#000" stroke-width="1.8" fill="none"/>
<circle cx="191.58" cy="549.84" r="8.45" fill="#8FB500" stroke="#2a2a2a" stroke-width="0.8"/>
<path d="M189.28 550.84H193.88" stroke="#000" stroke-width="1.8" fill="none"/>
<circle cx="235.93" cy="549.84" r="8.45" fill="#C6E2A4" stroke="#2a2a2a" stroke-width="0.8"/>
<path d="M231.33 550.44H240.53M235.93 545.84V555.04" stroke="#000" stroke-width="1.8" fill="none"/>
<circle cx="280.28" cy="549.84" r="8.45" fill="#8FB500" stroke="#2a2a2a" stroke-width="0.8"/>
<path d="M277.98 550.84H282.58" stroke="#000" stroke-width="1.8" fill="none"/>
<circle cx="324.62" cy="549.84" r="8.45" fill="#C6E2A4" stroke="#2a2a2a" stroke-width="0.8"/>
<path d="M320.02 550.44H329.23M324.62 545.84V555.04" stroke="#000" stroke-width="1.8" fill="none"/>
<text transform="translate(61.2,329.7) rotate(-90)" font-size="9.0" fill="#222222">Study</text>
<text transform="translate(84.92,571.7) scale(0.99,1)" font-size="8.3" fill="#222222">Domains:</text>
<text transform="translate(84.93,580.6) scale(0.97,1)" font-size="8.3" fill="#222222">D1: Bias due to randomisation.</text>
<text transform="translate(84.94,589.5) scale(0.96,1)" font-size="8.3" fill="#222222">D2: Bias due to deviations from intended intervention.</text>
<text transform="translate(84.92,598.3) scale(0.99,1)" font-size="8.3" fill="#222222">D3: Bias due to missing data.</text>
<text transform="translate(84.93,607.2) scale(0.98,1)" font-size="8.3" fill="#222222">D4: Bias due to outcome measurement.</text>
<text transform="translate(84.93,616) scale(0.97,1)" font-size="8.3" fill="#222222">D5: Bias due to selection of reported result.</text>
<text transform="translate(277.88,571.3) scale(0.93,1)" font-size="8.3" fill="#222222">Judgement</text>
<circle cx="284.8" cy="582.4" r="5.8" fill="#6B8E23"/>
<path d="M282.64 580.03L286.96 585.73M286.96 580.03L282.64 585.73" stroke="#000" stroke-width="1.0" fill="none"/>
<text transform="translate(296.16,586) scale(0.93,1)" font-size="8.3" fill="#222222">High</text>
<circle cx="284.8" cy="596.9" r="5.8" fill="#8FB500"/>
<path d="M283.42 597.5H286.18" stroke="#000" stroke-width="1.1" fill="none"/>
<text transform="translate(296.45,600.5) scale(0.93,1)" font-size="8.3" fill="#222222">Some concerns</text>
<circle cx="284.8" cy="610.9" r="5.8" fill="#C6E2A4"/>
<path d="M282.04 611.26H287.56M284.8 608.5V614.02" stroke="#000" stroke-width="1.1" fill="none"/>
<text transform="translate(296.16,614.5) scale(0.93,1)" font-size="8.3" fill="#222222">Low</text>
<text transform="translate(508.8,56.8)" font-size="8.5" fill="#222222">Risk of bias domains</text>
<rect x="631.47" y="74.5" width="41.53" height="279.1" fill="#d3d3d3"/>
<line x1="423.8" y1="102.41" x2="631.47" y2="102.41" stroke="#dcdcdc" stroke-width="1.1"/>
<line x1="631.47" y1="102.41" x2="673" y2="102.41" stroke="#c8c8c8" stroke-width="1.1"/>
<line x1="423.8" y1="130.32" x2="631.47" y2="130.32" stroke="#dcdcdc" stroke-width="1.1"/>
<line x1="631.47" y1="130.32" x2="673" y2="130.32" stroke="#c8c8c8" stroke-width="1.1"/>
<line x1="423.8" y1="158.23" x2="631.47" y2="158.23" stroke="#dcdcdc" stroke-width="1.1"/>
<line x1="631.47" y1="158.23" x2="673" y2="158.23" stroke="#c8c8c8" stroke-width="1.1"/>
<line x1="423.8" y1="186.14" x2="631.47" y2="186.14" stroke="#dcdcdc" stroke-width="1.1"/>
<line x1="631.47" y1="186.14" x2="673" y2="186.14" stroke="#c8c8c8" stroke-width="1.1"/>
<line x1="423.8" y1="214.05" x2="631.47" y2="214.05" stroke="#dcdcdc" stroke-width="1.1"/>
<line x1="631.47" y1="214.05" x2="673" y2="214.05" stroke="#c8c8c8" stroke-width="1.1"/>
<line x1="423.8" y1="241.96" x2="631.47" y2="241.96" stroke="#dcdcdc" stroke-width="1.1"/>
<line x1="631.47" y1="241.96" x2="673" y2="241.96" stroke="#c8c8c8" stroke-width="1.1"/>
<line x1="423.8" y1="269.87" x2="631.47" y2="269.87" stroke="#dcdcdc" stroke-width="1.1"/>
<line x1="631.47" y1="269.87" x2="673" y2="269.87" stroke="#c8c8c8" stroke-width="1.1"/>
<line x1="423.8" y1="297.78" x2="631.47" y2="297.78" stroke="#dcdcdc" stroke-width="1.1"/>
<line x1="631.47" y1="297.78" x2="673" y2="297.78" stroke="#c8c8c8" stroke-width="1.1"/>
<line x1="423.8" y1="325.69" x2="631.47" y2="325.69" stroke="#dcdcdc" stroke-width="1.1"/>
<line x1="631.47" y1="325.69" x2="673" y2="325.69" stroke="#c8c8c8" stroke-width="1.1"/>
<line x1="423.8" y1="353.6" x2="631.47" y2="353.6" stroke="#dcdcdc" stroke-width="1.1"/>
<line x1="631.47" y1="353.6" x2="673" y2="353.6" stroke="#dcdcdc" stroke-width="1.1"/>
<line x1="465.33" y1="74.5" x2="465.33" y2="353.6" stroke="#dcdcdc" stroke-width="1.1"/>
<line x1="506.87" y1="74.5" x2="506.87" y2="353.6" stroke="#dcdcdc" stroke-width="1.1"/>
<line x1="548.4" y1="74.5" x2="548.4" y2="353.6" stroke="#dcdcdc" stroke-width="1.1"/>
<line x1="589.93" y1="74.5" x2="589.93" y2="353.6" stroke="#dcdcdc" stroke-width="1.1"/>
<line x1="631.47" y1="74.5" x2="631.47" y2="353.6" stroke="#dcdcdc" stroke-width="1.1"/>
<line x1="673" y1="74.5" x2="673" y2="353.6" stroke="#dcdcdc" stroke-width="1.1"/>
<rect x="423.8" y="59.2" width="41.53" height="14.8" fill="#aaaaaa" stroke="#6a6a6a" stroke-width="1"/>
<text transform="translate(439.79,69.7) scale(0.91,1)" font-size="8.0" fill="#222222">D1</text>
<rect x="465.33" y="59.2" width="41.53" height="14.8" fill="#aaaaaa" stroke="#6a6a6a" stroke-width="1"/>
<text transform="translate(481.33,69.7) scale(0.91,1)" font-size="8.0" fill="#222222">D2</text>
<rect x="506.87" y="59.2" width="41.53" height="14.8" fill="#aaaaaa" stroke="#6a6a6a" stroke-width="1"/>
<text transform="translate(522.84,69.7) scale(0.91,1)" font-size="8.0" fill="#222222">D3</text>
<rect x="548.4" y="59.2" width="41.53" height="14.8" fill="#aaaaaa" stroke="#6a6a6a" stroke-width="1"/>
<text transform="translate(564.32,69.7) scale(0.91,1)" font-size="8.0" fill="#222222">D4</text>
<rect x="589.93" y="59.2" width="41.53" height="14.8" fill="#aaaaaa" stroke="#6a6a6a" stroke-width="1"/>
<text transform="translate(605.9,69.7) scale(0.91,1)" font-size="8.0" fill="#222222">D5</text>
<rect x="631.47" y="59.2" width="41.53" height="14.8" fill="#aaaaaa" stroke="#6a6a6a" stroke-width="1"/>
<text transform="translate(640.78,69.7) scale(0.91,1)" font-size="8.0" fill="#222222">Overall</text>
<rect x="409.5" y="74.5" width="14.3" height="27.91" fill="#aaaaaa" stroke="#6a6a6a" stroke-width="1"/>
<text transform="translate(419.4,93.23) rotate(-90)" font-size="7.6" fill="#3a3a3a">B1</text>
<rect x="409.5" y="102.41" width="14.3" height="27.91" fill="#aaaaaa" stroke="#6a6a6a" stroke-width="1"/>
<text transform="translate(419.4,121.13) rotate(-90)" font-size="7.6" fill="#3a3a3a">B2</text>
<rect x="409.5" y="130.32" width="14.3" height="27.91" fill="#aaaaaa" stroke="#6a6a6a" stroke-width="1"/>
<text transform="translate(419.4,149.07) rotate(-90)" font-size="7.6" fill="#3a3a3a">B3</text>
<rect x="409.5" y="158.23" width="14.3" height="27.91" fill="#aaaaaa" stroke="#6a6a6a" stroke-width="1"/>
<text transform="translate(419.4,177.04) rotate(-90)" font-size="7.6" fill="#3a3a3a">B4</text>
<rect x="409.5" y="186.14" width="14.3" height="27.91" fill="#aaaaaa" stroke="#6a6a6a" stroke-width="1"/>
<text transform="translate(419.4,204.9) rotate(-90)" font-size="7.6" fill="#3a3a3a">B5</text>
<rect x="409.5" y="214.05" width="14.3" height="27.91" fill="#aaaaaa" stroke="#6a6a6a" stroke-width="1"/>
<text transform="translate(419.4,232.8) rotate(-90)" font-size="7.6" fill="#3a3a3a">B6</text>
<rect x="409.5" y="241.96" width="14.3" height="27.91" fill="#aaaaaa" stroke="#6a6a6a" stroke-width="1"/>
<text transform="translate(419.4,260.68) rotate(-90)" font-size="7.6" fill="#3a3a3a">B7</text>
<rect x="409.5" y="269.87" width="14.3" height="27.91" fill="#aaaaaa" stroke="#6a6a6a" stroke-width="1"/>
<text transform="translate(419.4,288.62) rotate(-90)" font-size="7.6" fill="#3a3a3a">B8</text>
<rect x="409.5" y="297.78" width="14.3" height="27.91" fill="#aaaaaa" stroke="#6a6a6a" stroke-width="1"/>
<text transform="translate(419.4,316.52) rotate(-90)" font-size="7.6" fill="#3a3a3a">B9</text>
<rect x="409.5" y="325.69" width="14.3" height="27.91" fill="#aaaaaa" stroke="#6a6a6a" stroke-width="1"/>
<text transform="translate(419.4,346.57) rotate(-90)" font-size="7.6" fill="#3a3a3a">B10</text>
<circle cx="444.57" cy="88.45" r="8.05" fill="#FFA07A" stroke="#2a2a2a" stroke-width="0.8"/>
<path d="M440.47 89.36H448.67M444.57 85.26V93.45" stroke="#000" stroke-width="1.8" fill="none"/>
<circle cx="486.1" cy="88.45" r="8.05" fill="#FFA07A" stroke="#2a2a2a" stroke-width="0.8"/>
<path d="M482 89.36H490.2M486.1 85.26V93.45" stroke="#000" stroke-width="1.8" fill="none"/>
<circle cx="527.63" cy="88.45" r="8.05" fill="#FFA07A" stroke="#2a2a2a" stroke-width="0.8"/>
<path d="M523.53 89.36H531.73M527.63 85.26V93.45" stroke="#000" stroke-width="1.8" fill="none"/>
<circle cx="569.17" cy="88.45" r="8.05" fill="#FF4500" stroke="#2a2a2a" stroke-width="0.8"/>
<path d="M566.87 89.36H571.47" stroke="#000" stroke-width="1.8" fill="none"/>
<circle cx="610.7" cy="88.45" r="8.05" fill="#FFA07A" stroke="#2a2a2a" stroke-width="0.8"/>
<path d="M606.6 89.36H614.8M610.7 85.26V93.45" stroke="#000" stroke-width="1.8" fill="none"/>
<circle cx="652.23" cy="88.45" r="8.05" fill="#FFA07A" stroke="#2a2a2a" stroke-width="0.8"/>
<path d="M648.13 89.36H656.33M652.23 85.26V93.45" stroke="#000" stroke-width="1.8" fill="none"/>
<circle cx="444.57" cy="116.36" r="8.05" fill="#FF4500" stroke="#2a2a2a" stroke-width="0.8"/>
<path d="M442.27 117.27H446.87" stroke="#000" stroke-width="1.8" fill="none"/>
<circle cx="486.1" cy="116.36" r="8.05" fill="#FFA07A" stroke="#2a2a2a" stroke-width="0.8"/>
<path d="M482 117.27H490.2M486.1 113.17V121.36" stroke="#000" stroke-width="1.8" fill="none"/>
<circle cx="527.63" cy="116.36" r="8.05" fill="#FF4500" stroke="#2a2a2a" stroke-width="0.8"/>
<path d="M525.33 117.27H529.93" stroke="#000" stroke-width="1.8" fill="none"/>
<circle cx="569.17" cy="116.36" r="8.05" fill="#FF4500" stroke="#2a2a2a" stroke-width="0.8"/>
<path d="M566.87 117.27H571.47" stroke="#000" stroke-width="1.8" fill="none"/>
<circle cx="610.7" cy="116.36" r="8.05" fill="#FF4500" stroke="#2a2a2a" stroke-width="0.8"/>
<path d="M608.4 117.27H613" stroke="#000" stroke-width="1.8" fill="none"/>
<circle cx="652.23" cy="116.36" r="8.05" fill="#FFA07A" stroke="#2a2a2a" stroke-width="0.8"/>
<path d="M648.13 117.27H656.33M652.23 113.17V121.36" stroke="#000" stroke-width="1.8" fill="none"/>
<circle cx="444.57" cy="144.28" r="8.05" fill="#FFA07A" stroke="#2a2a2a" stroke-width="0.8"/>
<path d="M440.47 145.18H448.67M444.57 141.08V149.28" stroke="#000" stroke-width="1.8" fill="none"/>
<circle cx="486.1" cy="144.28" r="8.05" fill="#FFA07A" stroke="#2a2a2a" stroke-width="0.8"/>
<path d="M482 145.18H490.2M486.1 141.08V149.28" stroke="#000" stroke-width="1.8" fill="none"/>
<circle cx="527.63" cy="144.28" r="8.05" fill="#FF4500" stroke="#2a2a2a" stroke-width="0.8"/>
<path d="M525.33 145.18H529.93" stroke="#000" stroke-width="1.8" fill="none"/>
<circle cx="569.17" cy="144.28" r="8.05" fill="#FF4500" stroke="#2a2a2a" stroke-width="0.8"/>
<path d="M566.87 145.18H571.47" stroke="#000" stroke-width="1.8" fill="none"/>
<circle cx="610.7" cy="144.28" r="8.05" fill="#FFA07A" stroke="#2a2a2a" stroke-width="0.8"/>
<path d="M606.6 145.18H614.8M610.7 141.08V149.28" stroke="#000" stroke-width="1.8" fill="none"/>
<circle cx="652.23" cy="144.28" r="8.05" fill="#FFA07A" stroke="#2a2a2a" stroke-width="0.8"/>
<path d="M648.13 145.18H656.33M652.23 141.08V149.28" stroke="#000" stroke-width="1.8" fill="none"/>
<circle cx="444.57" cy="172.19" r="8.05" fill="#FFA07A" stroke="#2a2a2a" stroke-width="0.8"/>
<path d="M440.47 173.09H448.67M444.57 168.99V177.19" stroke="#000" stroke-width="1.8" fill="none"/>
<circle cx="486.1" cy="172.19" r="8.05" fill="#FF4500" stroke="#2a2a2a" stroke-width="0.8"/>
<path d="M483.8 173.09H488.4" stroke="#000" stroke-width="1.8" fill="none"/>
<circle cx="527.63" cy="172.19" r="8.05" fill="#FFA07A" stroke="#2a2a2a" stroke-width="0.8"/>
<path d="M523.53 173.09H531.73M527.63 168.99V177.19" stroke="#000" stroke-width="1.8" fill="none"/>
<circle cx="569.17" cy="172.19" r="8.05" fill="#FFA07A" stroke="#2a2a2a" stroke-width="0.8"/>
<path d="M565.07 173.09H573.27M569.17 168.99V177.19" stroke="#000" stroke-width="1.8" fill="none"/>
<circle cx="610.7" cy="172.19" r="8.05" fill="#FFA07A" stroke="#2a2a2a" stroke-width="0.8"/>
<path d="M606.6 173.09H614.8M610.7 168.99V177.19" stroke="#000" stroke-width="1.8" fill="none"/>
<circle cx="652.23" cy="172.19" r="8.05" fill="#FFA07A" stroke="#2a2a2a" stroke-width="0.8"/>
<path d="M648.13 173.09H656.33M652.23 168.99V177.19" stroke="#000" stroke-width="1.8" fill="none"/>
<circle cx="444.57" cy="200.1" r="8.05" fill="#FFA07A" stroke="#2a2a2a" stroke-width="0.8"/>
<path d="M440.47 201H448.67M444.57 196.9V205.1" stroke="#000" stroke-width="1.8" fill="none"/>
<circle cx="486.1" cy="200.1" r="8.05" fill="#FFA07A" stroke="#2a2a2a" stroke-width="0.8"/>
<path d="M482 201H490.2M486.1 196.9V205.1" stroke="#000" stroke-width="1.8" fill="none"/>
<circle cx="527.63" cy="200.1" r="8.05" fill="#FF4500" stroke="#2a2a2a" stroke-width="0.8"/>
<path d="M525.33 201H529.93" stroke="#000" stroke-width="1.8" fill="none"/>
<circle cx="569.17" cy="200.1" r="8.05" fill="#FFA07A" stroke="#2a2a2a" stroke-width="0.8"/>
<path d="M565.07 201H573.27M569.17 196.9V205.1" stroke="#000" stroke-width="1.8" fill="none"/>
<circle cx="610.7" cy="200.1" r="8.05" fill="#FFA07A" stroke="#2a2a2a" stroke-width="0.8"/>
<path d="M606.6 201H614.8M610.7 196.9V205.1" stroke="#000" stroke-width="1.8" fill="none"/>
<circle cx="652.23" cy="200.1" r="8.05" fill="#FFA07A" stroke="#2a2a2a" stroke-width="0.8"/>
<path d="M648.13 201H656.33M652.23 196.9V205.1" stroke="#000" stroke-width="1.8" fill="none"/>
<circle cx="444.57" cy="228.01" r="8.05" fill="#FF4500" stroke="#2a2a2a" stroke-width="0.8"/>
<path d="M442.27 228.91H446.87" stroke="#000" stroke-width="1.8" fill="none"/>
<circle cx="486.1" cy="228.01" r="8.05" fill="#FFA07A" stroke="#2a2a2a" stroke-width="0.8"/>
<path d="M482 228.91H490.2M486.1 224.81V233.01" stroke="#000" stroke-width="1.8" fill="none"/>
<circle cx="527.63" cy="228.01" r="8.05" fill="#FFA07A" stroke="#2a2a2a" stroke-width="0.8"/>
<path d="M523.53 228.91H531.73M527.63 224.81V233.01" stroke="#000" stroke-width="1.8" fill="none"/>
<circle cx="569.17" cy="228.01" r="8.05" fill="#FF4500" stroke="#2a2a2a" stroke-width="0.8"/>
<path d="M566.87 228.91H571.47" stroke="#000" stroke-width="1.8" fill="none"/>
<circle cx="610.7" cy="228.01" r="8.05" fill="#FF4500" stroke="#2a2a2a" stroke-width="0.8"/>
<path d="M608.4 228.91H613" stroke="#000" stroke-width="1.8" fill="none"/>
<circle cx="652.23" cy="228.01" r="8.05" fill="#FFA07A" stroke="#2a2a2a" stroke-width="0.8"/>
<path d="M648.13 228.91H656.33M652.23 224.81V233.01" stroke="#000" stroke-width="1.8" fill="none"/>
<circle cx="444.57" cy="255.92" r="8.05" fill="#FFA07A" stroke="#2a2a2a" stroke-width="0.8"/>
<path d="M440.47 256.82H448.67M444.57 252.72V260.92" stroke="#000" stroke-width="1.8" fill="none"/>
<circle cx="486.1" cy="255.92" r="8.05" fill="#FFA07A" stroke="#2a2a2a" stroke-width="0.8"/>
<path d="M482 256.82H490.2M486.1 252.72V260.92" stroke="#000" stroke-width="1.8" fill="none"/>
<circle cx="527.63" cy="255.92" r="8.05" fill="#FF4500" stroke="#2a2a2a" stroke-width="0.8"/>
<path d="M525.33 256.82H529.93" stroke="#000" stroke-width="1.8" fill="none"/>
<circle cx="569.17" cy="255.92" r="8.05" fill="#FFA07A" stroke="#2a2a2a" stroke-width="0.8"/>
<path d="M565.07 256.82H573.27M569.17 252.72V260.92" stroke="#000" stroke-width="1.8" fill="none"/>
<circle cx="610.7" cy="255.92" r="8.05" fill="#FFA07A" stroke="#2a2a2a" stroke-width="0.8"/>
<path d="M606.6 256.82H614.8M610.7 252.72V260.92" stroke="#000" stroke-width="1.8" fill="none"/>
<circle cx="652.23" cy="255.92" r="8.05" fill="#FFA07A" stroke="#2a2a2a" stroke-width="0.8"/>
<path d="M648.13 256.82H656.33M652.23 252.72V260.92" stroke="#000" stroke-width="1.8" fill="none"/>
<circle cx="444.57" cy="283.82" r="8.05" fill="#FF4500" stroke="#2a2a2a" stroke-width="0.8"/>
<path d="M442.27 284.72H446.87" stroke="#000" stroke-width="1.8" fill="none"/>
<circle cx="486.1" cy="283.82" r="8.05" fill="#FFA07A" stroke="#2a2a2a" stroke-width="0.8"/>
<path d="M482 284.72H490.2M486.1 280.62V288.82" stroke="#000" stroke-width="1.8" fill="none"/>
<circle cx="527.63" cy="283.82" r="8.05" fill="#FF4500" stroke="#2a2a2a" stroke-width="0.8"/>
<path d="M525.33 284.72H529.93" stroke="#000" stroke-width="1.8" fill="none"/>
<circle cx="569.17" cy="283.82" r="8.05" fill="#FF4500" stroke="#2a2a2a" stroke-width="0.8"/>
<path d="M566.87 284.72H571.47" stroke="#000" stroke-width="1.8" fill="none"/>
<circle cx="610.7" cy="283.82" r="8.05" fill="#FF4500" stroke="#2a2a2a" stroke-width="0.8"/>
<path d="M608.4 284.72H613" stroke="#000" stroke-width="1.8" fill="none"/>
<circle cx="652.23" cy="283.82" r="8.05" fill="#FFA07A" stroke="#2a2a2a" stroke-width="0.8"/>
<path d="M648.13 284.72H656.33M652.23 280.62V288.82" stroke="#000" stroke-width="1.8" fill="none"/>
<circle cx="444.57" cy="311.74" r="8.05" fill="#FF4500" stroke="#2a2a2a" stroke-width="0.8"/>
<path d="M442.27 312.63H446.87" stroke="#000" stroke-width="1.8" fill="none"/>
<circle cx="486.1" cy="311.74" r="8.05" fill="#FFA07A" stroke="#2a2a2a" stroke-width="0.8"/>
<path d="M482 312.63H490.2M486.1 308.53V316.74" stroke="#000" stroke-width="1.8" fill="none"/>
<circle cx="527.63" cy="311.74" r="8.05" fill="#FF4500" stroke="#2a2a2a" stroke-width="0.8"/>
<path d="M525.33 312.63H529.93" stroke="#000" stroke-width="1.8" fill="none"/>
<circle cx="569.17" cy="311.74" r="8.05" fill="#FFA07A" stroke="#2a2a2a" stroke-width="0.8"/>
<path d="M565.07 312.63H573.27M569.17 308.53V316.74" stroke="#000" stroke-width="1.8" fill="none"/>
<circle cx="610.7" cy="311.74" r="8.05" fill="#FF4500" stroke="#2a2a2a" stroke-width="0.8"/>
<path d="M608.4 312.63H613" stroke="#000" stroke-width="1.8" fill="none"/>
<circle cx="652.23" cy="311.74" r="8.05" fill="#FFA07A" stroke="#2a2a2a" stroke-width="0.8"/>
<path d="M648.13 312.63H656.33M652.23 308.53V316.74" stroke="#000" stroke-width="1.8" fill="none"/>
<circle cx="444.57" cy="339.65" r="8.05" fill="#FFA07A" stroke="#2a2a2a" stroke-width="0.8"/>
<path d="M440.47 340.55H448.67M444.57 336.44V344.65" stroke="#000" stroke-width="1.8" fill="none"/>
<circle cx="486.1" cy="339.65" r="8.05" fill="#FFA07A" stroke="#2a2a2a" stroke-width="0.8"/>
<path d="M482 340.55H490.2M486.1 336.44V344.65" stroke="#000" stroke-width="1.8" fill="none"/>
<circle cx="527.63" cy="339.65" r="8.05" fill="#FF4500" stroke="#2a2a2a" stroke-width="0.8"/>
<path d="M525.33 340.55H529.93" stroke="#000" stroke-width="1.8" fill="none"/>
<circle cx="569.17" cy="339.65" r="8.05" fill="#FFA07A" stroke="#2a2a2a" stroke-width="0.8"/>
<path d="M565.07 340.55H573.27M569.17 336.44V344.65" stroke="#000" stroke-width="1.8" fill="none"/>
<circle cx="610.7" cy="339.65" r="8.05" fill="#FF4500" stroke="#2a2a2a" stroke-width="0.8"/>
<path d="M608.4 340.55H613" stroke="#000" stroke-width="1.8" fill="none"/>
<circle cx="652.23" cy="339.65" r="8.05" fill="#FFA07A" stroke="#2a2a2a" stroke-width="0.8"/>
<path d="M648.13 340.55H656.33M652.23 336.44V344.65" stroke="#000" stroke-width="1.8" fill="none"/>
<text transform="translate(404.7,224.16) rotate(-90)" font-size="8.2" fill="#222222">Study</text>
<text transform="translate(428.17,364.6) scale(0.92,1)" font-size="8.3" fill="#222222">Domains:</text>
<text transform="translate(428.18,372.75) scale(0.91,1)" font-size="8.3" fill="#222222">D1: Bias due to randomisation.</text>
<text transform="translate(428.19,380.9) scale(0.89,1)" font-size="8.3" fill="#222222">D2: Bias due to deviations from intended intervention.</text>
<text transform="translate(428.17,389.2) scale(0.92,1)" font-size="8.3" fill="#222222">D3: Bias due to missing data.</text>
<text transform="translate(428.18,397.6) scale(0.91,1)" font-size="8.3" fill="#222222">D4: Bias due to outcome measurement.</text>
<text transform="translate(428.18,406) scale(0.9,1)" font-size="8.3" fill="#222222">D5: Bias due to selection of reported result.</text>
<text transform="translate(608.39,364.3) scale(0.89,1)" font-size="8.3" fill="#222222">Judgement</text>
<circle cx="615" cy="375.5" r="5" fill="#FFA07A"/>
<path d="M612.7 375.8H617.3M615 373.5V378.1" stroke="#000" stroke-width="1.0" fill="none"/>
<text transform="translate(625.21,378.7) scale(0.95,1)" font-size="7.6" fill="#222222">Low</text>
<circle cx="615" cy="388.4" r="5" fill="#FF4500"/>
<path d="M613.85 388.9H616.15" stroke="#000" stroke-width="1.0" fill="none"/>
<text transform="translate(625.48,391.6) scale(0.95,1)" font-size="7.6" fill="#222222">Some concerns</text>
<line x1="67.7" y1="704" x2="67.7" y2="814" stroke="#f6f6f6" stroke-width="1"/>
<line x1="360.2" y1="704.5" x2="360.2" y2="814" stroke="#f6f6f6" stroke-width="1"/>
<line x1="401.6" y1="707.5" x2="401.6" y2="814" stroke="#f6f6f6" stroke-width="1"/>
<rect x="79.4" y="711.4" width="110.2" height="15" fill="#C6E2A4" stroke="#3a3a3a" stroke-width="0.8"/>
<rect x="189.6" y="711.4" width="124" height="15" fill="#8FB500" stroke="#3a3a3a" stroke-width="0.8"/>
<rect x="313.6" y="711.4" width="28.8" height="15" fill="#6B8E23" stroke="#3a3a3a" stroke-width="0.8"/>
<text transform="translate(47.38,723.1) scale(0.99,1)" font-size="12.5" fill="#000">D1</text>
<rect x="79.4" y="732.3" width="183" height="15" fill="#C6E2A4" stroke="#3a3a3a" stroke-width="0.8"/>
<rect x="262.4" y="732.3" width="80" height="15" fill="#8FB500" stroke="#3a3a3a" stroke-width="0.8"/>
<text transform="translate(47.41,744) scale(0.99,1)" font-size="12.5" fill="#000">D2</text>
<rect x="79.4" y="753.2" width="95.2" height="15" fill="#C6E2A4" stroke="#3a3a3a" stroke-width="0.8"/>
<rect x="174.6" y="753.2" width="167.8" height="15" fill="#8FB500" stroke="#3a3a3a" stroke-width="0.8"/>
<text transform="translate(47.32,764.9) scale(0.99,1)" font-size="12.5" fill="#000">D3</text>
<rect x="79.4" y="774.1" width="87" height="15" fill="#C6E2A4" stroke="#3a3a3a" stroke-width="0.8"/>
<rect x="166.4" y="774.1" width="166" height="15" fill="#8FB500" stroke="#3a3a3a" stroke-width="0.8"/>
<rect x="332.4" y="774.1" width="10" height="15" fill="#6B8E23" stroke="#3a3a3a" stroke-width="0.8"/>
<text transform="translate(47.13,785.8) scale(0.99,1)" font-size="12.5" fill="#000">D4</text>
<rect x="79.4" y="795" width="78.2" height="15" fill="#C6E2A4" stroke="#3a3a3a" stroke-width="0.8"/>
<rect x="157.6" y="795" width="166" height="15" fill="#8FB500" stroke="#3a3a3a" stroke-width="0.8"/>
<rect x="323.6" y="795" width="18.8" height="15" fill="#6B8E23" stroke="#3a3a3a" stroke-width="0.8"/>
<text transform="translate(47.29,806.7) scale(0.99,1)" font-size="12.5" fill="#000">D5</text>
<line x1="67.4" y1="815.0" x2="354.5" y2="815.0" stroke="#8c8c8c" stroke-width="1.1"/>
<line x1="79.4" y1="815.0" x2="79.4" y2="817.6" stroke="#8c8c8c" stroke-width="1.1"/>
<text transform="translate(73.1,827)" font-size="8.7" fill="#666">0%</text>
<line x1="145.15" y1="815.0" x2="145.15" y2="817.6" stroke="#8c8c8c" stroke-width="1.1"/>
<text transform="translate(136.38,827)" font-size="8.7" fill="#666">25%</text>
<line x1="210.9" y1="815.0" x2="210.9" y2="817.6" stroke="#8c8c8c" stroke-width="1.1"/>
<text transform="translate(202.18,827)" font-size="8.7" fill="#666">50%</text>
<line x1="276.65" y1="815.0" x2="276.65" y2="817.6" stroke="#8c8c8c" stroke-width="1.1"/>
<text transform="translate(267.87,827)" font-size="8.7" fill="#666">75%</text>
<line x1="342.4" y1="815.0" x2="342.4" y2="817.6" stroke="#8c8c8c" stroke-width="1.1"/>
<text transform="translate(331.11,827)" font-size="8.7" fill="#666">100%</text>
<rect x="67.4" y="837.4" width="286.6" height="29" fill="none" stroke="#555" stroke-width="1"/>
<rect x="73" y="842.6" width="18.6" height="18.8" fill="#C6E2A4" stroke="#333" stroke-width="0.9"/>
<text transform="translate(100.46,855.6) scale(0.99,1)" font-size="7.8" fill="#222222">Low risk of bias</text>
<rect x="164" y="842.6" width="18.4" height="18.8" fill="#8FB500" stroke="#333" stroke-width="0.9"/>
<text transform="translate(190.86,855.6) scale(0.97,1)" font-size="7.8" fill="#222222">Some concerns</text>
<rect x="263" y="842.6" width="18.6" height="18.8" fill="#6B8E23" stroke="#333" stroke-width="0.9"/>
<text transform="translate(290.59,855.6) scale(0.95,1)" font-size="7.8" fill="#222222">High risk of bias</text>
<rect x="416.4" y="714" width="163.8" height="14.3" fill="#FFA07A" stroke="#3a3a3a" stroke-width="0.8"/>
<rect x="580.2" y="714" width="92.4" height="14.3" fill="#FF4500" stroke="#3a3a3a" stroke-width="0.8"/>
<text transform="translate(394.53,727.85) scale(0.98,1)" font-size="12.5" fill="#000">D1</text>
<rect x="416.4" y="734.4" width="228" height="14.3" fill="#FFA07A" stroke="#3a3a3a" stroke-width="0.8"/>
<rect x="644.4" y="734.4" width="28.2" height="14.3" fill="#FF4500" stroke="#3a3a3a" stroke-width="0.8"/>
<text transform="translate(394.56,748.25) scale(0.98,1)" font-size="12.5" fill="#000">D2</text>
<rect x="416.4" y="754.8" width="80" height="14.3" fill="#FFA07A" stroke="#3a3a3a" stroke-width="0.8"/>
<rect x="496.4" y="754.8" width="176.2" height="14.3" fill="#FF4500" stroke="#3a3a3a" stroke-width="0.8"/>
<text transform="translate(394.47,768.65) scale(0.98,1)" font-size="12.5" fill="#000">D3</text>
<rect x="416.4" y="775.2" width="134" height="14.3" fill="#FFA07A" stroke="#3a3a3a" stroke-width="0.8"/>
<rect x="550.4" y="775.2" width="122.2" height="14.3" fill="#FF4500" stroke="#3a3a3a" stroke-width="0.8"/>
<text transform="translate(394.29,789.05) scale(0.98,1)" font-size="12.5" fill="#000">D4</text>
<rect x="416.4" y="795.6" width="137.9" height="14.3" fill="#FFA07A" stroke="#3a3a3a" stroke-width="0.8"/>
<rect x="554.3" y="795.6" width="118.3" height="14.3" fill="#FF4500" stroke="#3a3a3a" stroke-width="0.8"/>
<text transform="translate(394.44,809.45) scale(0.98,1)" font-size="12.5" fill="#000">D5</text>
<line x1="403" y1="814.6" x2="684.5" y2="814.6" stroke="#8c8c8c" stroke-width="1.1"/>
<line x1="416.4" y1="814.6" x2="416.4" y2="817.2" stroke="#8c8c8c" stroke-width="1.1"/>
<text transform="translate(410.1,827)" font-size="8.7" fill="#666">0%</text>
<line x1="480.45" y1="814.6" x2="480.45" y2="817.2" stroke="#8c8c8c" stroke-width="1.1"/>
<text transform="translate(471.68,827)" font-size="8.7" fill="#666">25%</text>
<line x1="544.5" y1="814.6" x2="544.5" y2="817.2" stroke="#8c8c8c" stroke-width="1.1"/>
<text transform="translate(535.78,827)" font-size="8.7" fill="#666">50%</text>
<line x1="608.55" y1="814.6" x2="608.55" y2="817.2" stroke="#8c8c8c" stroke-width="1.1"/>
<text transform="translate(599.77,827)" font-size="8.7" fill="#666">75%</text>
<line x1="672.6" y1="814.6" x2="672.6" y2="817.2" stroke="#8c8c8c" stroke-width="1.1"/>
<text transform="translate(661.31,827)" font-size="8.7" fill="#666">100%</text>
<rect x="449.6" y="836.5" width="190" height="28.7" fill="none" stroke="#555" stroke-width="1"/>
<rect x="454.6" y="842" width="17.8" height="17.6" fill="#FFA07A" stroke="#333" stroke-width="0.9"/>
<text transform="translate(481.37,854.4) scale(0.98,1)" font-size="7.8" fill="#222222">Low risk of bias</text>
<rect x="543.6" y="842" width="17.8" height="17.6" fill="#FF4500" stroke="#333" stroke-width="0.9"/>
<text transform="translate(569.67,854.4) scale(0.93,1)" font-size="7.8" fill="#222222">Some concerns</text>
</svg>
</body></html>
